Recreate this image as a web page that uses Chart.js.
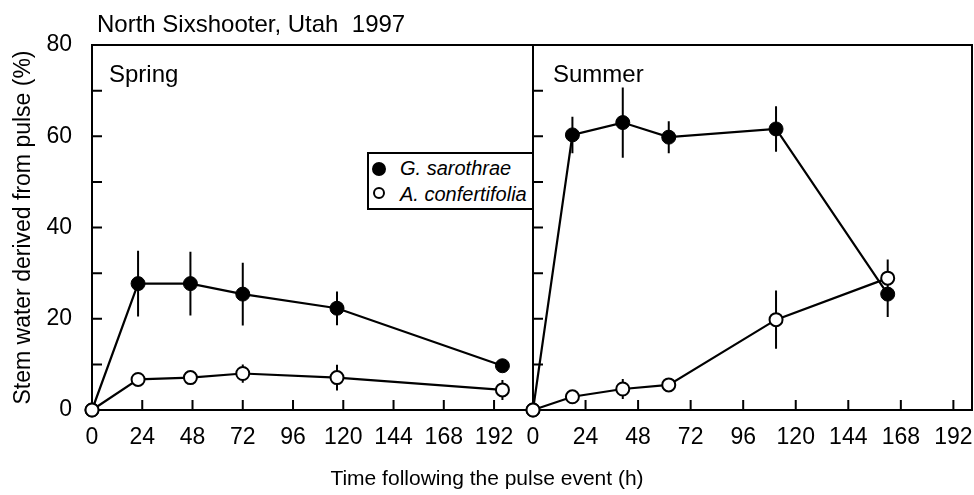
<!DOCTYPE html>
<html>
<head>
<meta charset="utf-8">
<script src="https://cdn.jsdelivr.net/npm/chart.js@4.4.1/dist/chart.umd.min.js"></script>
<style>
  body { margin: 0; background: #fff; }
  #page { position: relative; width: 974px; height: 495px; overflow: hidden; font-family: "Liberation Sans", Arial, sans-serif; color: #000; }
  canvas { position: absolute; top: 0; }
  .txt { position: absolute; white-space: pre; line-height: 24px; }
  #legend { position: absolute; left: 367px; top: 152px; width: 167px; height: 58px; border: 2px solid #000; box-sizing: border-box; background: #fff; }
  #legend .dot { position: absolute; border-radius: 50%; box-sizing: border-box; border: 2px solid #000; }
  #legend .lbl { position: absolute; left: 31px; font-size: 20px; font-style: italic; line-height: 20px; white-space: pre; }
</style>
</head>
<body>
<div id="page">
  <canvas id="spring" width="534" height="495" style="left:0"></canvas>
  <canvas id="summer" width="474" height="495" style="left:500px"></canvas>
  <div class="txt" style="left:97px; top:12px; font-size:24px;">North Sixshooter, Utah  1997</div>
  <div class="txt" style="left:109px; top:62px; font-size:24px;">Spring</div>
  <div class="txt" style="left:553px; top:62px; font-size:24px;">Summer</div>
  <div class="txt" style="left:0; width:974px; top:466px; font-size:21px; text-align:center;">Time following the pulse event (h)</div>
  <div id="legend">
    <span class="dot" style="left:3px; top:8px; width:14px; height:14px; background:#000;"></span>
    <span class="lbl" style="top:4px;">G. sarothrae</span>
    <span class="dot" style="left:4px; top:33px; width:12px; height:12px; background:#fff;"></span>
    <span class="lbl" style="top:30px;">A. confertifolia</span>
  </div>
</div>
<script>
// ejes
const hourTicks = [0, 24, 48, 72, 96, 120, 144, 168, 192];
const yTicks = [0, 10, 20, 30, 40, 50, 60, 70, 80];
const yTickLabels = [0, 20, 40, 60, 80];

// Primavera
const springHours = [0, 22, 47, 72, 117, 196];
const springSar = [0, 27.7, 27.7, 25.4, 22.3, 9.7];
const springSarErr = [0, 7.2, 7.0, 6.9, 3.7, 0.8];
const springConf = [0, 6.7, 7.1, 8.0, 7.1, 4.4];
const springConfErr = [0, 1.0, 1.0, 2.0, 2.8, 2.2];

// Verano
const summerHours = [0, 18, 41, 62, 111, 162];
const summerSar = [0, 60.3, 63.0, 59.8, 61.6, 25.4];
const summerSarErr = [0, 4.0, 7.7, 3.5, 5.0, 5.0];
const summerConf = [0, 2.9, 4.6, 5.5, 19.8, 28.9];
const summerConfErr = [0, 1.0, 2.2, 1.0, 6.4, 4.1];

const FONT = "'Liberation Sans', Arial, sans-serif";

function points(xs, ys) {
  return xs.map((x, i) => ({ x: x, y: ys[i] }));
}

// marco, marcas hacia adentro y barras de error
const framePlugin = {
  id: 'frame',
  beforeDatasetsDraw(chart) {
    const { ctx, chartArea: a, scales: { x, y } } = chart;
    ctx.save();
    ctx.strokeStyle = '#000';
    ctx.lineWidth = 2;
    ctx.strokeRect(a.left, a.top, a.right - a.left, a.bottom - a.top);
    ctx.beginPath();
    yTicks.forEach(v => {
      if (v === 0 || v === 80) return;
      const py = y.getPixelForValue(v);
      ctx.moveTo(a.left, py);
      ctx.lineTo(a.left + 10, py);
    });
    hourTicks.forEach(v => {
      if (v === 0) return;
      const px = x.getPixelForValue(v);
      ctx.moveTo(px, a.bottom);
      ctx.lineTo(px, a.bottom - 10);
    });
    ctx.stroke();

    // barras de error
    ctx.beginPath();
    chart.data.datasets.forEach(ds => {
      ds.data.forEach((p, i) => {
        const e = ds.errors[i];
        if (!e) return;
        const px = x.getPixelForValue(p.x);
        ctx.moveTo(px, y.getPixelForValue(p.y + e));
        ctx.lineTo(px, y.getPixelForValue(p.y - e));
      });
    });
    ctx.stroke();
    ctx.restore();
  }
};

function makeChart(id, hours, sar, sarErr, conf, confErr, xMax, padLeft, padRight, showY) {
  return new Chart(document.getElementById(id), {
    type: 'line',
    data: {
      datasets: [
        {
          label: 'G. sarothrae',
          data: points(hours, sar),
          errors: sarErr,
          borderColor: '#000',
          borderWidth: 2.2,
          pointRadius: 7,
          pointBackgroundColor: '#000',
          pointBorderColor: '#000',
          pointBorderWidth: 1,
          tension: 0,
          clip: false,
          order: 1
        },
        {
          label: 'A. confertifolia',
          data: points(hours, conf),
          errors: confErr,
          borderColor: '#000',
          borderWidth: 2.2,
          pointRadius: 6.5,
          pointBackgroundColor: '#fff',
          pointBorderColor: '#000',
          pointBorderWidth: 2,
          tension: 0,
          clip: false,
          order: 0
        }
      ]
    },
    options: {
      responsive: false,
      animation: false,
      layout: { autoPadding: false, padding: { top: 45, left: padLeft, right: padRight, bottom: 0 } },
      plugins: { legend: { display: false }, tooltip: { enabled: false } },
      scales: {
        x: {
          type: 'linear',
          min: 0,
          max: xMax,
          afterBuildTicks: s => { s.ticks = hourTicks.map(v => ({ value: v })); },
          afterFit: s => { s.height = 85; s.paddingLeft = 0; s.paddingRight = 0; },
          grid: { display: false, drawTicks: false },
          border: { display: false },
          ticks: {
            color: '#000',
            padding: 14,
            maxRotation: 0,
            autoSkip: false,
            font: { family: FONT, size: 23 }
          }
        },
        y: {
          display: showY,
          min: 0,
          max: 80,
          afterBuildTicks: s => { s.ticks = yTicks.map(v => ({ value: v })); },
          afterFit: s => { s.width = showY ? 92 : 0; s.paddingTop = 0; s.paddingBottom = 0; },
          grid: { display: false, drawTicks: false },
          border: { display: false },
          ticks: {
            color: '#000',
            padding: 20,
            font: { family: FONT, size: 23 },
            callback: v => yTickLabels.includes(v) ? String(v) : ''
          },
          title: {
            display: true,
            text: 'Stem water derived from pulse (%)',
            color: '#000',
            padding: { top: 10, bottom: 0 },
            font: { family: FONT, size: 23 }
          }
        }
      }
    },
    plugins: [framePlugin]
  });
}

makeChart('spring', springHours, springSar, springSarErr, springConf, springConfErr, 210.6, 0, 1, true);
makeChart('summer', summerHours, summerSar, summerSarErr, summerConf, summerConfErr, 200.5, 33, 2, false);
</script>
</body>
</html>
